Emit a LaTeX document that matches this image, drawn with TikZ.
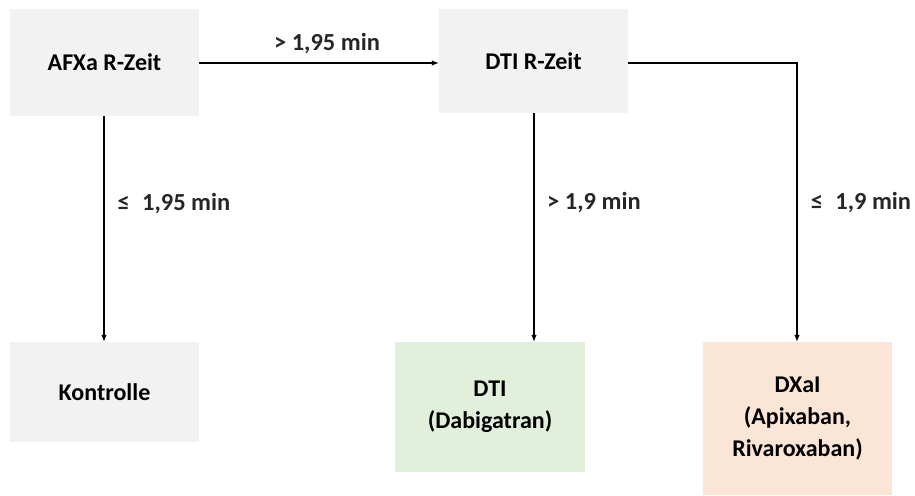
\documentclass[tikz,border=0pt]{standalone}
\usepackage{fontspec}
\setmainfont{Carlito}
\usetikzlibrary{arrows.meta}
\definecolor{boxgray}{HTML}{F2F2F2}
\definecolor{boxgreen}{HTML}{E2EFDA}
\definecolor{boxpeach}{HTML}{FBE5D6}
\definecolor{lbl}{HTML}{262626}
\begin{document}
\begin{tikzpicture}[x=1pt,y=-1pt,
  box/.style={fill=#1,draw=none,inner sep=0pt,font=\bfseries\fontsize{24}{32}\selectfont,align=center,text=black},
  conn/.style={line width=1.1pt,-{Latex[length=7pt,width=5.5pt]}},
  cond/.style={font=\bfseries\fontsize{24.5}{28}\selectfont,text=lbl,inner sep=0pt}]
\useasboundingbox (0,0) rectangle (915,495);
% boxes
\node[box=boxgray,minimum width=189pt,minimum height=107pt] (afxa) at (104.5,62.5) {AFXa R-Zeit};
\node[box=boxgray,minimum width=189pt,minimum height=104pt] (dtir) at (533.5,61) {DTI R-Zeit};
\node[box=boxgray,minimum width=189pt,minimum height=100pt] (kon) at (104.5,392) {Kontrolle};
\node[box=boxgreen,minimum width=190pt,minimum height=130pt] (dti) at (490,407) {DTI\\(Dabigatran)};
\node[box=boxpeach,minimum width=189pt,minimum height=153pt] (dxai) at (797.5,418.5) {DXaI\\(Apixaban,\\Rivaroxaban)};
% connectors
\coordinate (c1) at (797,63);
\draw[conn] (afxa.east |- 0,63) -- (dtir.west |- 0,63);
\draw[conn] (afxa.south -| 104,0) -- (kon.north -| 104,0);
\draw[conn] (dtir.south -| 534,0) -- (dti.north -| 534,0);
\draw[conn] (dtir.east |- 0,63) -- (c1) -- (dxai.north -| 797,0);
% labels
\node[cond] (l1) at (327,44) {> 1,95 min};
\node[cond] (l2) at (174,204) {≤\enspace 1,95 min};
\node[cond] (l3) at (594,203) {> 1,9 min};
\node[cond] (l4) at (861,203) {≤\enspace 1,9 min};
\end{tikzpicture}
\end{document}
